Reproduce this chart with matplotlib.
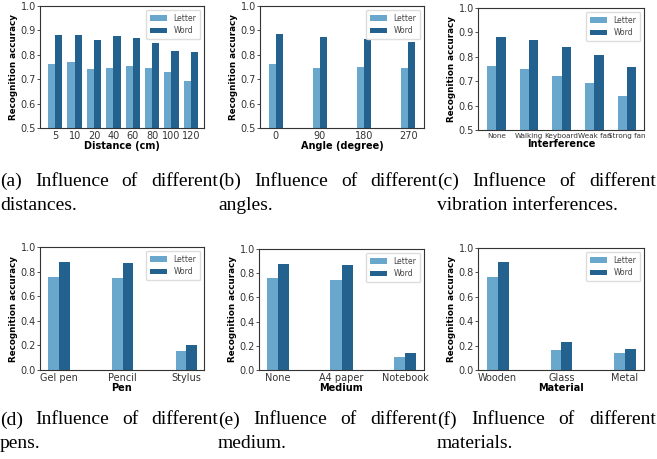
import numpy as np
import matplotlib
matplotlib.use("Agg")
import matplotlib.pyplot as plt

# data
dist_labels = ['5', '10', '20', '40', '60', '80', '100', '120']
dist_letter = [0.762, 0.769, 0.740, 0.745, 0.753, 0.745, 0.728, 0.693]
dist_word = [0.881, 0.881, 0.861, 0.876, 0.867, 0.848, 0.814, 0.811]

angle_labels = ['0', '90', '180', '270']
angle_letter = [0.762, 0.745, 0.749, 0.745]
angle_word = [0.885, 0.872, 0.863, 0.851]

interf_labels = ['None', 'Walking', 'Keyboard', 'Weak fan', 'Strong fan']
interf_letter = [0.762, 0.750, 0.721, 0.693, 0.639]
interf_word = [0.881, 0.869, 0.840, 0.807, 0.758]

pen_labels = ['Gel pen', 'Pencil', 'Stylus']
pen_letter = [0.758, 0.750, 0.155]
pen_word = [0.880, 0.872, 0.204]

medium_labels = ['None', 'A4 paper', 'Notebook']
medium_letter = [0.762, 0.746, 0.108]
medium_word = [0.878, 0.870, 0.141]

material_labels = ['Wooden', 'Glass', 'Metal']
material_letter = [0.764, 0.164, 0.140]
material_word = [0.888, 0.230, 0.173]

captions = [
    ('(a) Influence of different', 'distances.'),
    ('(b) Influence of different', 'angles.'),
    ('(c) Influence of different', 'vibration interferences.'),
    ('(d) Influence of different', 'pens.'),
    ('(e) Influence of different', 'medium.'),
    ('(f) Influence of different', 'materials.'),
]

c_letter = '#6aa7cd'
c_word = '#23628f'

W, H = 657, 459
fig = plt.figure(figsize=(W / 100, H / 100), dpi=100)


def make_axes(x0, x1, y0, y1):
    return fig.add_axes([x0 / W, 1 - y1 / H, (x1 - x0) / W, (y1 - y0) / H])


def bars(ax, labels, letter, word, width, xlim, ylim, yticks, xlabel, tick_fs=7):
    x = np.arange(len(labels))
    ax.bar(x - width / 2, letter, width, color=c_letter, label='Letter')
    ax.bar(x + width / 2, word, width, color=c_word, label='Word')
    ax.set_xticks(x)
    ax.set_xticklabels(labels, fontsize=tick_fs)
    ax.set_xlim(*xlim)
    ax.set_ylim(*ylim)
    ax.set_yticks(yticks)
    ax.tick_params(axis='y', labelsize=7, length=2, width=0.6, pad=1, colors='#333333')
    ax.tick_params(axis='x', length=0, pad=2, colors='#333333')
    ax.set_xlabel(xlabel, fontsize=7, fontweight='bold', labelpad=0)
    ax.set_ylabel('Recognition accuracy', fontsize=6.3, fontweight='bold', labelpad=2)
    for s in ax.spines.values():
        s.set_linewidth(0.8)
        s.set_color('#333333')
    leg = ax.legend(loc='upper right', fontsize=5.5, handlelength=2.3, framealpha=1,
                    edgecolor='#dddddd', borderpad=0.5)
    for t in leg.get_texts():
        t.set_color('#444444')


top_y = np.round(np.arange(0.5, 1.01, 0.1), 1)
bot_y = np.round(np.arange(0.0, 1.01, 0.2), 1)

ax = make_axes(40, 204, 6, 128)
bars(ax, dist_labels, dist_letter, dist_word, 0.37, (-0.79, 7.68), (0.5, 1.0), top_y, 'Distance (cm)')
ax = make_axes(260, 424, 6, 128)
bars(ax, angle_labels, angle_letter, angle_word, 0.166, (-0.36, 3.36), (0.5, 1.0), top_y, 'Angle (degree)')
ax = make_axes(478, 644, 8, 130)
bars(ax, interf_labels, interf_letter, interf_word, 0.285, (-0.56, 4.52), (0.5, 1.0), top_y, 'Interference', tick_fs=5.2)
ax = make_axes(40, 204, 247, 370)
bars(ax, pen_labels, pen_letter, pen_word, 0.168, (-0.3, 2.28), (0.0, 1.0), bot_y, 'Pen')
ax = make_axes(259, 424, 249, 370)
bars(ax, medium_labels, medium_letter, medium_word, 0.18, (-0.3, 2.3), (0.0, 1.0), bot_y, 'Medium')
ax = make_axes(478, 644, 248, 370)
bars(ax, material_labels, material_letter, material_word, 0.17, (-0.31, 2.3), (0.0, 1.0), bot_y, 'Material')

# captions: first line justified over the column width, second line left aligned
renderer = fig.canvas.get_renderer()
cap_fs = 14
cap_cols = [(0, 218), (218, 437), (437, 656)]
cap_y = [(181, 205), (420, 443)]
for i, (l1, l2) in enumerate(captions):
    col, row = i % 3, i // 3
    x0, x1 = cap_cols[col]
    y = 1 - cap_y[row][0] / H
    words = l1.split(' ')
    texts = [fig.text(0, y, w, fontsize=cap_fs, family='Liberation Serif', va='center', ha='left')
             for w in words]
    widths = [t.get_window_extent(renderer).width for t in texts]
    gap = ((x1 - x0) - sum(widths)) / (len(words) - 1)
    pos = x0
    for t, w in zip(texts, widths):
        t.set_x(pos / W)
        pos += w + gap
    fig.text(x0 / W, 1 - cap_y[row][1] / H, l2, fontsize=cap_fs,
             family='Liberation Serif', va='center', ha='left')

fig.savefig('out.png', dpi=100)
